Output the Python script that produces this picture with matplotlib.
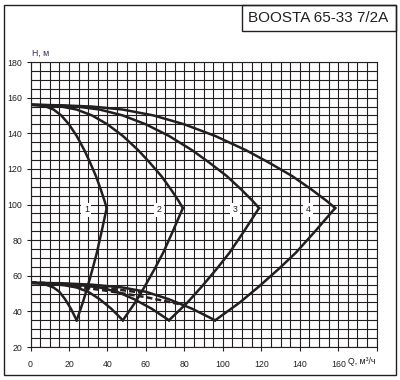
import matplotlib
matplotlib.use('Agg')
from matplotlib import pyplot as plt
from matplotlib.patches import Rectangle

plt.rcParams['font.family'] = ['Liberation Sans', 'DejaVu Sans']

ink = '#231f20'

# H-Q curves (1..4 pumps), upper part: from shut-off head to the tip
h_top = [156, 155.7, 155, 153.3, 150, 145, 138.5, 130.5, 123.5, 116, 108.5, 102, 98]
q1_top = [0, 4, 8, 12, 16, 20, 24, 28, 31, 34, 36.5, 38.5, 39.6]
q2_top = [0, 8, 16, 24, 32, 40, 48, 56, 62, 68, 73, 77, 79.2]
q3_top = [0, 12, 24, 36, 48, 60, 72, 84, 93, 102, 109.5, 115.5, 118.8]
q4_top = [0, 16, 32, 48, 64, 80, 96, 112, 124, 136, 146, 154, 158.4]

# from the tip down to the lowest point
h_side = [98, 85, 73, 64, 54, 45, 35]
q1_side = [39.6, 37, 34.5, 32.3, 29.7, 27.2, 24]
q2_side = [79.2, 74, 69, 64.6, 59.4, 54.4, 48]
q3_side = [118.8, 111, 103.5, 96.9, 89.1, 81.6, 72]
q4_side = [158.4, 148, 138, 129.2, 118.8, 108.8, 96]

# from the lowest point back to Q=0
h_low = [35, 41.5, 46.8, 51, 53.4, 55, 55.8, 56]
q1_low = [24, 21, 18, 15, 12, 8, 4, 0]
q2_low = [48, 42, 36, 30, 24, 16, 8, 0]
q3_low = [72, 63, 54, 45, 36, 24, 12, 0]
q4_low = [96, 84, 72, 60, 48, 32, 16, 0]

# dashed lines
qa_dash = [0, 20, 40, 60, 80]
ha_dash = [56.3, 54.5, 51.5, 48, 43.5]
qb_dash = [0, 20, 40, 58]
hb_dash = [56.3, 55, 53, 50.5]
qc_dash = [0, 20, 34]
hc_dash = [56.3, 55.3, 53.8]

curve_names = ['1', '2', '3', '4']
label_q = [29, 67, 106.5, 144.5]
label_h = 97

x_ticks = [0, 20, 40, 60, 80, 100, 120, 140, 160, 180]
x_labels = ['0', '20', '40', '60', '80', '100', '120', '140', '160', '']
y_ticks = [20, 40, 60, 80, 100, 120, 140, 160, 180]

fig = plt.figure(figsize=(4, 3.8), dpi=100)
ax = fig.add_axes([0.0763, 0.0868, 0.8655, 0.75])

ax.set_xlim(0, 180)
ax.set_ylim(20, 180)
ax.set_xticks(x_ticks)
ax.set_xticklabels(x_labels)
ax.set_yticks(y_ticks)
ax.set_xticks(range(0, 181, 5), minor=True)
ax.set_yticks(range(20, 181, 5), minor=True)
ax.grid(which='both', color=ink, lw=0.8)
ax.set_axisbelow(True)
ax.tick_params(which='minor', length=0)
ax.tick_params(which='major', length=3, width=0.8, labelsize=6.3, colors=ink)
ax.tick_params(axis='x', pad=6)
ax.tick_params(axis='y', pad=3)
for s in ax.spines.values():
    s.set_color(ink)
    s.set_linewidth(0.8)

tops = [q1_top, q2_top, q3_top, q4_top]
sides = [q1_side, q2_side, q3_side, q4_side]
lows = [q1_low, q2_low, q3_low, q4_low]
for i in range(4):
    ax.plot(tops[i], h_top, color=ink, lw=1.8, zorder=3, solid_joinstyle='round')
    ax.plot(sides[i], h_side, color=ink, lw=1.8, zorder=3, solid_joinstyle='round')
    ax.plot(lows[i], h_low, color=ink, lw=1.8, zorder=3, solid_joinstyle='round')
    ax.text(label_q[i], label_h, curve_names[i], fontsize=6.3, color=ink, ha='center', va='center',
            zorder=4, bbox=dict(fc='white', ec='none', pad=1.8))

for q, h in [(qa_dash, ha_dash), (qb_dash, hb_dash), (qc_dash, hc_dash)]:
    ax.plot(q, h, color=ink, lw=1.8, ls=(0, (2.4, 1.2)), zorder=3)

ax.text(1, 185, 'H, м', fontsize=6.3, color='#3b2f55', ha='left', va='center', clip_on=False)
ax.text(172, 11.6, 'Q, м³/ч', fontsize=6.3, color=ink, ha='center', va='center', clip_on=False)

# frame and title box
fig.patches.append(Rectangle((4 / 400, 5 / 380), 392 / 400, 370 / 380, transform=fig.transFigure,
                             fill=False, lw=1, ec=ink))
fig.patches.append(Rectangle((242 / 400, 349 / 380), 154 / 400, 26 / 380, transform=fig.transFigure,
                             fill=False, lw=1, ec=ink))
fig.text(318 / 400, 1 - 18 / 380, 'BOOSTA 65-33 7/2A', fontsize=11, color=ink, ha='center', va='center')

plt.savefig('out.png', dpi=100)
